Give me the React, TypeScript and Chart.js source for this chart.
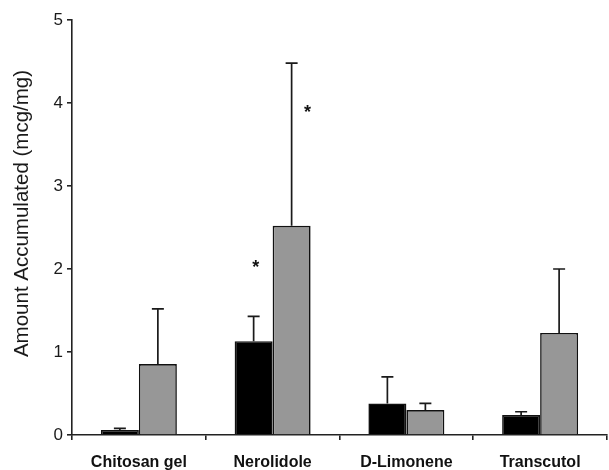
import React, { useEffect, useRef } from "react";
import { Chart, registerables } from "chart.js";

Chart.register(...registerables);

const categories = ["Chitosan gel", "Nerolidole", "D-Limonene", "Transcutol"];
const blackValues = [0.06, 1.13, 0.38, 0.24];
const blackErrors = [0.02, 0.3, 0.32, 0.04];
const grayValues = [0.855, 2.52, 0.3, 1.23];
const grayErrors = [0.665, 1.96, 0.08, 0.77];
const blackStars = [null, 2.07, null, null];
const grayStars = [null, 3.94, null, null];
const yTicks = [0, 1, 2, 3, 4, 5];
const yTitle = "Amount Accumulated (mcg/mg)";

const errorBarPlugin = {
  id: "errorBars",
  afterDatasetsDraw(chart: any) {
    const ctx = chart.ctx;
    const yScale = chart.scales.y;
    chart.data.datasets.forEach((ds: any, i: number) => {
      const meta = chart.getDatasetMeta(i);
      meta.data.forEach((el: any, j: number) => {
        const err = ds.errors[j];
        const v = ds.data[j];
        const yTop = yScale.getPixelForValue(v + err);
        const yBar = el.y;
        ctx.save();
        ctx.strokeStyle = "#1a1a1a";
        ctx.lineWidth = 1.7;
        ctx.beginPath();
        ctx.moveTo(el.x, yBar);
        ctx.lineTo(el.x, yTop);
        ctx.moveTo(el.x - 6, yTop);
        ctx.lineTo(el.x + 6, yTop);
        ctx.stroke();
        ctx.restore();
      });
      const stars = ds.stars;
      meta.data.forEach((el: any, j: number) => {
        const s = stars[j];
        if (s === null || s === undefined) return;
        const y = yScale.getPixelForValue(s);
        ctx.save();
        ctx.fillStyle = "#111";
        ctx.font = "bold 18px 'Liberation Sans', Arial, sans-serif";
        ctx.textAlign = "center";
        ctx.textBaseline = "alphabetic";
        ctx.fillText("*", el.x + ds.starOffset, y + 10);
        ctx.restore();
      });
    });
  },
};

const yTitlePlugin = {
  id: "yTitle",
  afterDraw(chart: any) {
    const ctx = chart.ctx;
    const area = chart.chartArea;
    ctx.save();
    ctx.translate(area.left - 50, (area.top + area.bottom) / 2 - 14);
    ctx.rotate(-Math.PI / 2);
    ctx.fillStyle = "#1a1a1a";
    ctx.font = "20.5px 'Liberation Sans', Arial, sans-serif";
    ctx.textAlign = "center";
    ctx.textBaseline = "middle";
    ctx.fillText(yTitle, 0, 0);
    ctx.restore();
  },
};

export default function App() {
  const ref = useRef<HTMLCanvasElement>(null);
  useEffect(() => {
    if (!ref.current) return;
    const chart = new Chart(ref.current, {
      type: "bar",
      data: {
        labels: categories,
        datasets: [
          {
            label: "A",
            data: blackValues,
            errors: blackErrors,
            stars: blackStars,
            starOffset: 2,
            backgroundColor: "#000000",
            borderColor: "#111",
            borderWidth: 1.6,
            barPercentage: 1,
            categoryPercentage: 0.568,
          } as any,
          {
            label: "B",
            data: grayValues,
            errors: grayErrors,
            stars: grayStars,
            starOffset: 16,
            backgroundColor: "#979797",
            borderColor: "#111",
            borderWidth: 1.6,
            barPercentage: 1,
            categoryPercentage: 0.568,
          } as any,
        ],
      },
      options: {
        animation: false,
        responsive: false,
        layout: { padding: { top: 20, right: 2, left: 0, bottom: 0 } },
        plugins: {
          legend: { display: false },
          tooltip: { enabled: false },
        },
        scales: {
          x: {
            grid: {
              display: true,
              offset: true,
              drawOnChartArea: false,
              drawTicks: true,
              tickLength: 5,
              color: "#222",
              lineWidth: 1.6,
            },
            border: { display: true, color: "#222", width: 1.6 },
            ticks: {
              color: "#111",
              font: { family: "'Liberation Sans', Arial, sans-serif", size: 16, weight: "bold" },
              padding: 13,
              maxRotation: 0,
            },
            afterFit: (s: any) => {
              s.height = 35;
            },
          },
          y: {
            min: 0,
            max: 5,
            afterBuildTicks: (s: any) => {
              s.ticks = yTicks.map((v) => ({ value: v }));
            },
            grid: {
              display: true,
              drawOnChartArea: false,
              drawTicks: true,
              tickLength: 5,
              color: "#222",
              lineWidth: 1.6,
            },
            border: { display: true, color: "#222", width: 1.6 },
            ticks: {
              color: "#1a1a1a",
              font: { family: "'Liberation Sans', Arial, sans-serif", size: 17 },
              padding: 4,
            },
            afterFit: (s: any) => {
              s.width = 72;
            },
          },
        },
      },
      plugins: [errorBarPlugin, yTitlePlugin],
    });
    return () => chart.destroy();
  }, []);
  return (
    <div style={{ position: "absolute", left: 0, top: 0, width: 609, height: 470, background: "#fff" }}>
      <canvas ref={ref} width={609} height={470} />
    </div>
  );
}
